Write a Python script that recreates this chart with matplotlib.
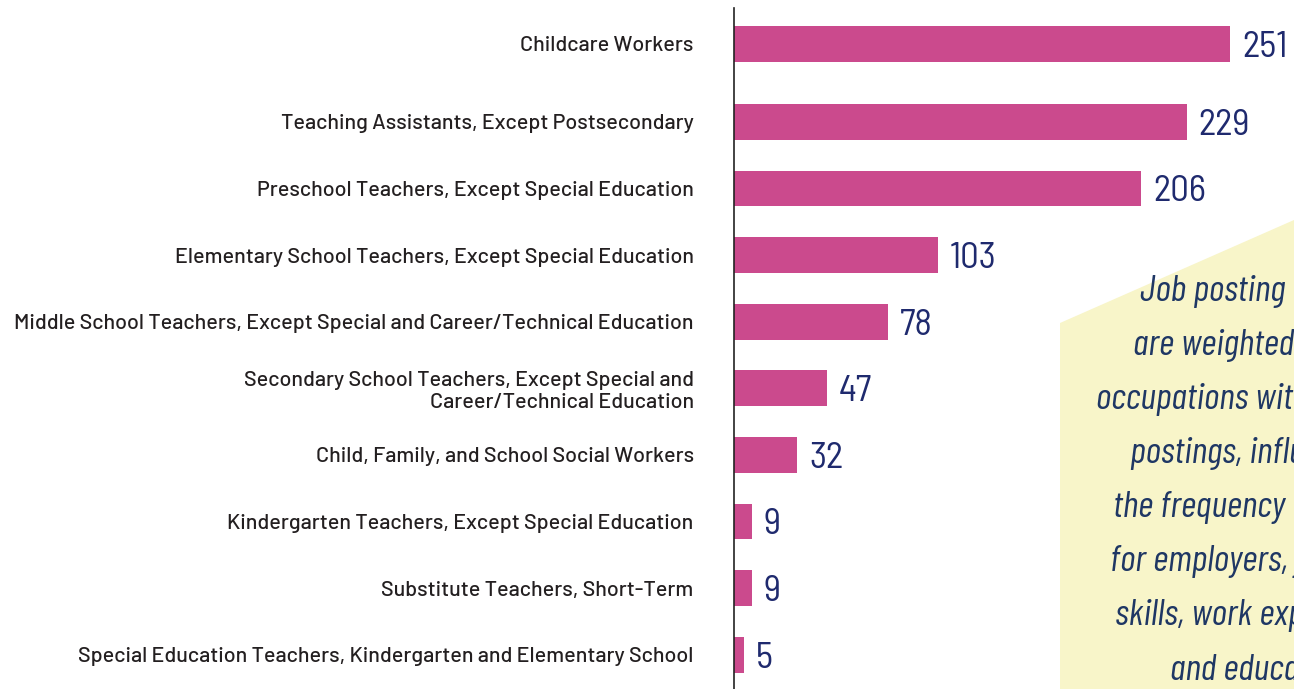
import matplotlib
matplotlib.use("Agg")
import matplotlib.pyplot as plt
from matplotlib.patches import Polygon
import numpy as np

occupations = [
    "Childcare Workers",
    "Teaching Assistants, Except Postsecondary",
    "Preschool Teachers, Except Special Education",
    "Elementary School Teachers, Except Special Education",
    "Middle School Teachers, Except Special and Career/Technical Education",
    "Secondary School Teachers, Except Special and\nCareer/Technical Education",
    "Child, Family, and School Social Workers",
    "Kindergarten Teachers, Except Special Education",
    "Substitute Teachers, Short-Term",
    "Special Education Teachers, Kindergarten and Elementary School",
]
postings = [251, 229, 206, 103, 78, 47, 32, 9, 9, 5]

note_lines = [
    "Job posting data",
    "are weighted toward",
    "occupations with more",
    "postings, influencing",
    "the frequency of",
    "for employers, job",
    "skills, work experience,",
    "and education.",
]

barColor = "#CB4A8D"
numColor = "#1F2A6E"
labelColor = "#231F20"
noteBg = "#F8F5C9"
noteColor = "#1F3764"
labelFont = ["Barlow", "Roboto"]
semiNarrow = ["Barlow Semi Condensed", "Barlow Condensed", "Roboto"]
narrow = ["Barlow Condensed", "Roboto"]

W, H = 1294, 689
fig = plt.figure(figsize=(W / 100, H / 100), dpi=100)
fig.patch.set_facecolor("white")

# yellow note box behind everything, cut by the right edge
fig.patches.append(Polygon([(1060 / W, 1 - 323 / H), (1.0, 1 - 220 / H), (1.0, 0.0), (1060 / W, 0.0)],
                           closed=True, transform=fig.transFigure, facecolor=noteBg, edgecolor="none", zorder=0))

ax = fig.add_axes([734 / W, 0, 1 - 734 / W, 1 - 8 / H])
ax.set_facecolor("none")

ypos = np.arange(len(postings), dtype=float)
ypos[1:] += 0.17  # first bar sits a bit apart
ax.barh(ypos, postings, height=0.54, color=barColor, zorder=2)
for y, v in zip(ypos, postings):
    ax.annotate(str(v), (v, y), xytext=(8.5, 0), textcoords="offset points", ha="left", va="center_baseline",
                color=numColor, fontsize=26.5, family=semiNarrow, annotation_clip=False)

ax.set_xlim(0, (W - 734) / 1.976)
ax.set_ylim(9.685, -0.54)
ax.set_yticks(ypos)
ax.set_yticklabels(occupations, fontsize=15.5, color=labelColor, family=labelFont, weight="medium", linespacing=1.15)
ax.tick_params(axis="y", length=0, pad=29)
ax.set_xticks([])
for s in ["top", "right", "bottom"]:
    ax.spines[s].set_visible(False)
ax.spines["left"].set_linewidth(1.2)
ax.spines["left"].set_color("#222222")

note_x = [1140, 1133, 1096, 1130, 1113, 1110, 1115, 1170]
for i, (line, x) in enumerate(zip(note_lines, note_x)):
    fig.text(x / W, 1 - (292 + 54 * i) / H, line, ha="left", va="center", color=noteColor,
             fontsize=27, style="italic", family=narrow)

fig.savefig("out.png", dpi=100)
